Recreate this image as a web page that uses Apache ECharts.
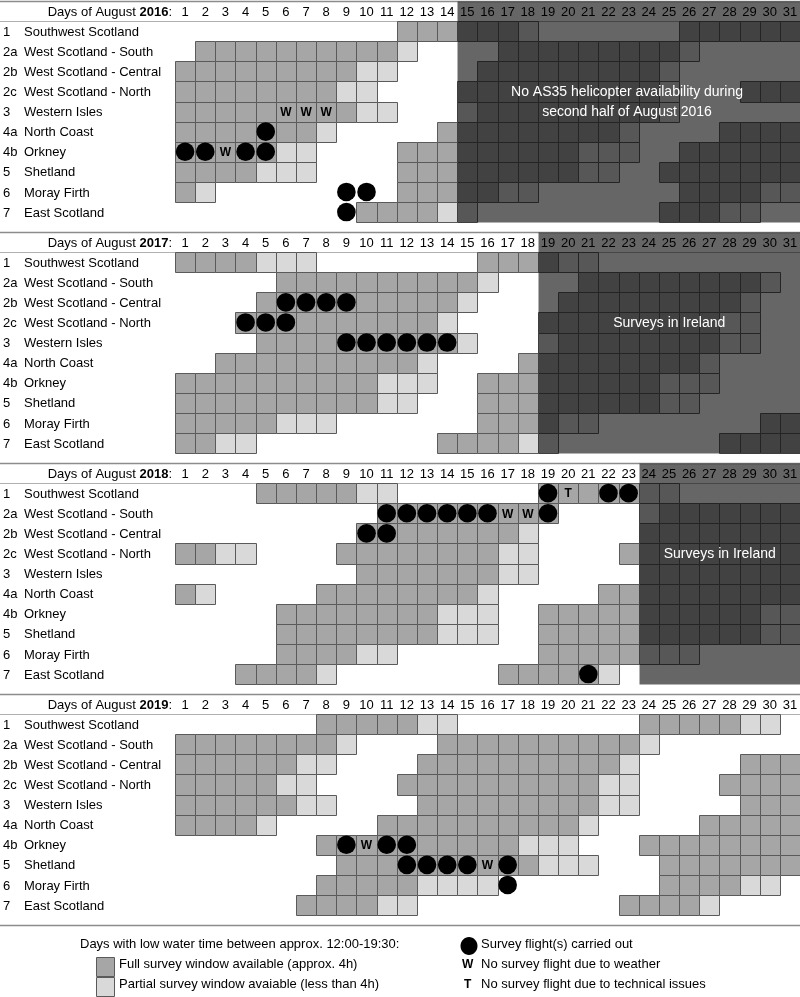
<!DOCTYPE html>
<html><head><meta charset="utf-8">
<script src="https://cdn.jsdelivr.net/npm/echarts@6/dist/echarts.min.js"></script>
<style>html,body{margin:0;padding:0;background:#fff}#c{width:800px;height:997px}</style>
</head><body><div id="c"></div>
<script>
// Codes: '.' none, F full window, P partial window, C flight (on full), O flight (no window), W weather, T technical
const YEARS = [2016, 2017, 2018, 2019];
const DAYS = ['1','2','3','4','5','6','7','8','9','10','11','12','13','14','15','16','17','18','19','20','21','22','23','24','25','26','27','28','29','30','31'];
const REGION_CODES = ['1','2a','2b','2c','3','4a','4b','5','6','7'];
const REGION_NAMES = ['Southwest Scotland','West Scotland - South','West Scotland - Central','West Scotland - North','Western Isles','North Coast','Orkney','Shetland','Moray Firth','East Scotland'];
const DATA_2016 = [
  '...........FFFFFFP.......FFFFFF',
  '.FFFFFFFFFFP....FFFFFFFFFP.....',
  'FFFFFFFFFPP....FFFFFFFFFP......',
  'FFFFFFFFPP....FFFFFFFFFFP...FFF',
  'FFFFFWWWFPP...PFFFFFFFFFP......',
  'FFFFCFFP.....FFFFFFFFFP....FFFF',
  'CCWCCPP....FFFFFFFFFPPP..FFFFFF',
  'FFFFPPP....FFFFFFFFFPP..FFFFFFF',
  'FP......OO.FFFFFPP.......FFFFPP',
  '........OFFFFPP.........FFFPP..'
];
const DATA_2017 = [
  'FFFFPPP........FFFFPP..........',
  '.....FFFFFFFFFFP....FFFFFFFFFP.',
  '....FCCCCFFFFFP....FFFFFFFFFP..',
  '...CCCFFFFFFFP....FFFFFFFFFPP..',
  '....FFFFCCCCCCP...PFFFFFFFFPP..',
  '..FFFFFFFFFFP....FFFFFFFFFP....',
  'FFFFFFFFFFPPP..FFFFFFFFFPPP....',
  'FFFFFFFFFFPP...FFFFFFFFFPP.....',
  'FFFFFPPP.......FFFFPP........FF',
  'FFPP.........FFFFPP........FFFF'
];
const DATA_2018 = [
  '....FFFFFPP.......CTFCCPP......',
  '..........CCCCCCWWC....PFFFFFFF',
  '.........CCFFFFFFP.....FFFFFFFF',
  'FFPP....FFFFFFFFPP....FFFFFFFFF',
  '.........FFFFFFFPP.....FFFFFFFF',
  'FP.....FFFFFFFFP.....FFFFFFFFFF',
  '.....FFFFFFFFPPP..FFFFFFFFFFFPP',
  '.....FFFFFFFFPPP..FFFFFFFFFFFPP',
  '.....FFFFPP.......FFFFFPPP.....',
  '...FFFFP........FFFFCP.........'
];
const DATA_2019 = [
  '.......FFFFFPP.........FFFFFPP.',
  'FFFFFFFFP....FFFFFFFFFFP.......',
  'FFFFFFPP....FFFFFFFFFFP.....FFF',
  'FFFFFPP....FFFFFFFFFFPP....FFFF',
  'FFFFFFPP....FFFFFFFFFPP.....FFF',
  'FFFFP.....FFFFFFFFFFP.....FFFFF',
  '.......FCWCCFFFFFPPP...FFFFFFFF',
  '........FFFCCCCWCFPPP...FFFFFFF',
  '.......FFFFFPPPPO.......FFFFPP.',
  '......FFFFPP..........FFFFP....'
];
const PANEL_DATA = [DATA_2016, DATA_2017, DATA_2018, DATA_2019];
const OVERLAY_START = [15, 19, 24, null];
const OVERLAY_TEXT = ['No AS35 helicopter availability during\nsecond half of August 2016', 'Surveys in Ireland', 'Surveys in Ireland', ''];

const FULL = '#a6a6a6', PART = '#d9d9d9', EDGE = '#5a5a5a';
const FONT = "'Liberation Sans', Arial, sans-serif";
const NARROW = "'Liberation Sans Narrow', 'Liberation Sans', Arial, sans-serif";
const PANEL_STEP = 231, ROW_H = 20.1;

const chart = echarts.init(document.getElementById('c'), null, {renderer: 'canvas'});
const grids = [], xAxes = [], yAxes = [], series = [];

YEARS.forEach((year, p) => {
  grids.push({left: 175, width: 625, top: 1 + PANEL_STEP * p, height: ROW_H * 11});
  xAxes.push({type: 'value', gridIndex: p, min: 0.5, max: 31.5, show: false});
  yAxes.push({type: 'value', gridIndex: p, min: -0.5, max: 10.5, inverse: true, show: false});
  const items = [];
  items.push({t: 'lines'});
  PANEL_DATA[p].forEach((row, r) => {
    for (let i = 0; i < 31; i++) {
      const c = row[i];
      if (c !== '.') items.push({t: 'cell', d: i + 1, r: r + 1, c: c});
    }
  });
  DAYS.forEach((lab, i) => items.push({t: 'day', d: i + 1, lab: lab}));
  REGION_CODES.forEach((code, r) => items.push({t: 'label', r: r + 1, code: code, name: REGION_NAMES[r]}));
  items.push({t: 'title', year: year});
  if (OVERLAY_START[p]) items.push({t: 'overlay', d: OVERLAY_START[p], text: OVERLAY_TEXT[p]});
  PANEL_DATA[p].forEach((row, r) => {
    for (let i = 0; i < 31; i++) {
      const c = row[i];
      if (c === 'C' || c === 'O' || c === 'W' || c === 'T') items.push({t: 'mark', d: i + 1, r: r + 1, c: c});
    }
  });
  series.push({
    type: 'custom', xAxisIndex: p, yAxisIndex: p, silent: true, clip: false,
    data: items.map((_, i) => [i]),
    renderItem: function (params, api) {
      const it = items[params.dataIndex];
      if (it.t === 'lines') {
        const y0 = Math.round(api.coord([1, -0.5])[1]) + 0.5;
        const y1 = Math.round(api.coord([1, 0.5])[1]) + 0.5;
        return {type: 'group', children: [
          {type: 'line', shape: {x1: 0, y1: y0, x2: 800, y2: y0}, style: {stroke: '#8c8c8c', lineWidth: 1.5}},
          {type: 'line', shape: {x1: 0, y1: y1, x2: 800, y2: y1}, style: {stroke: '#b0b0b0', lineWidth: 1}}
        ]};
      }
      if (it.t === 'cell') {
        const a = api.coord([it.d - 0.5, it.r - 0.5]), b = api.coord([it.d + 0.5, it.r + 0.5]);
        const x = Math.round(a[0]) + 0.5, y = Math.round(a[1]) + 0.5;
        const fill = (it.c === 'P') ? PART : (it.c === 'O' ? null : FULL);
        if (!fill) return null;
        return {type: 'rect', shape: {x: x, y: y, width: Math.round(b[0]) - Math.round(a[0]), height: Math.round(b[1]) - Math.round(a[1])},
          style: {fill: fill, stroke: EDGE, lineWidth: 1}};
      }
      if (it.t === 'day') {
        const c = api.coord([it.d, 0]);
        return {type: 'text', style: {x: c[0], y: c[1] + 1, text: it.lab, fill: '#000', font: '13px ' + FONT, align: 'center', verticalAlign: 'middle'}};
      }
      if (it.t === 'label') {
        const c = api.coord([1, it.r]);
        return {type: 'group', children: [
          {type: 'text', style: {x: 3, y: c[1] + 1, text: it.code, fill: '#000', font: '13px ' + FONT, verticalAlign: 'middle'}},
          {type: 'text', style: {x: 24, y: c[1] + 1, text: it.name, fill: '#000', font: '13px ' + FONT, verticalAlign: 'middle'}}
        ]};
      }
      if (it.t === 'title') {
        const c = api.coord([1, 0]);
        return {type: 'text', style: {x: 172, y: c[1] + 1, text: 'Days of August {b|' + it.year + '}:', fill: '#000', font: '13px ' + FONT,
          align: 'right', verticalAlign: 'middle', rich: {b: {fontWeight: 'bold', fontSize: 13, fontFamily: FONT}}}};
      }
      if (it.t === 'overlay') {
        const a = api.coord([it.d - 0.5, -0.5]), b = api.coord([31.5, 10.5]);
        const x = Math.round(a[0]) + 0.5, y = Math.round(a[1]) + 0.5;
        return {type: 'group', children: [
          {type: 'rect', shape: {x: x, y: y, width: 800 - x, height: Math.round(b[1]) - Math.round(a[1])}, style: {fill: 'rgba(0,0,0,0.6)'}},
          {type: 'text', style: {x: it.d === 15 ? 627 : (x + 800) / 2, y: (it.d === 15 ? api.coord([1, 4.5])[1] : api.coord([1, 4])[1]) + 1, text: it.text,
            fill: '#fff', font: '14px ' + FONT, align: 'center', verticalAlign: 'middle', lineHeight: 20}}
        ]};
      }
      if (it.t === 'mark') {
        const c = api.coord([it.d, it.r]);
        if (it.c === 'C' || it.c === 'O') {
          return {type: 'circle', shape: {cx: c[0], cy: c[1], r: 9.3}, style: {fill: '#000'}};
        }
        return {type: 'text', style: {x: c[0], y: c[1] + 1, text: it.c, fill: '#000', font: 'bold 12px ' + FONT, align: 'center', verticalAlign: 'middle'}};
      }
      return null;
    }
  });
});

const LEGEND_TEXTS = ['Days with low water time between approx. 12:00-19:30:', 'Full survey window available (approx. 4h)', 'Partial survey window avaiable (less than 4h)',
  'Survey flight(s) carried out', 'No survey flight due to weather', 'No survey flight due to technical issues'];
const lt = (x, y, t) => ({type: 'text', left: x, top: y - 8, style: {text: t, fill: '#000', font: '13px ' + NARROW}});

chart.setOption({
  animation: false,
  grid: grids, xAxis: xAxes, yAxis: yAxes, series: series,
  graphic: [
    lt(80, 946, LEGEND_TEXTS[0]),
    {type: 'rect', shape: {x: 96.5, y: 957.5, width: 18, height: 19}, style: {fill: FULL, stroke: EDGE, lineWidth: 1}},
    {type: 'rect', shape: {x: 96.5, y: 977.5, width: 18, height: 19}, style: {fill: PART, stroke: EDGE, lineWidth: 1}},
    lt(119, 966, LEGEND_TEXTS[1]),
    lt(119, 986, LEGEND_TEXTS[2]),
    {type: 'ellipse', shape: {cx: 469, cy: 946, rx: 8.5, ry: 9}, style: {fill: '#000'}},
    {type: 'text', left: 462, top: 959, style: {text: 'W', fill: '#000', font: 'bold 12px ' + FONT}},
    {type: 'text', left: 464, top: 979, style: {text: 'T', fill: '#000', font: 'bold 12px ' + FONT}},
    lt(481, 946, LEGEND_TEXTS[3]),
    lt(481, 966, LEGEND_TEXTS[4]),
    lt(481, 986, LEGEND_TEXTS[5]),
    {type: 'line', shape: {x1: 0, y1: 925.5, x2: 800, y2: 925.5}, style: {stroke: '#8c8c8c', lineWidth: 1.5}}
  ]
});
</script></body></html>
